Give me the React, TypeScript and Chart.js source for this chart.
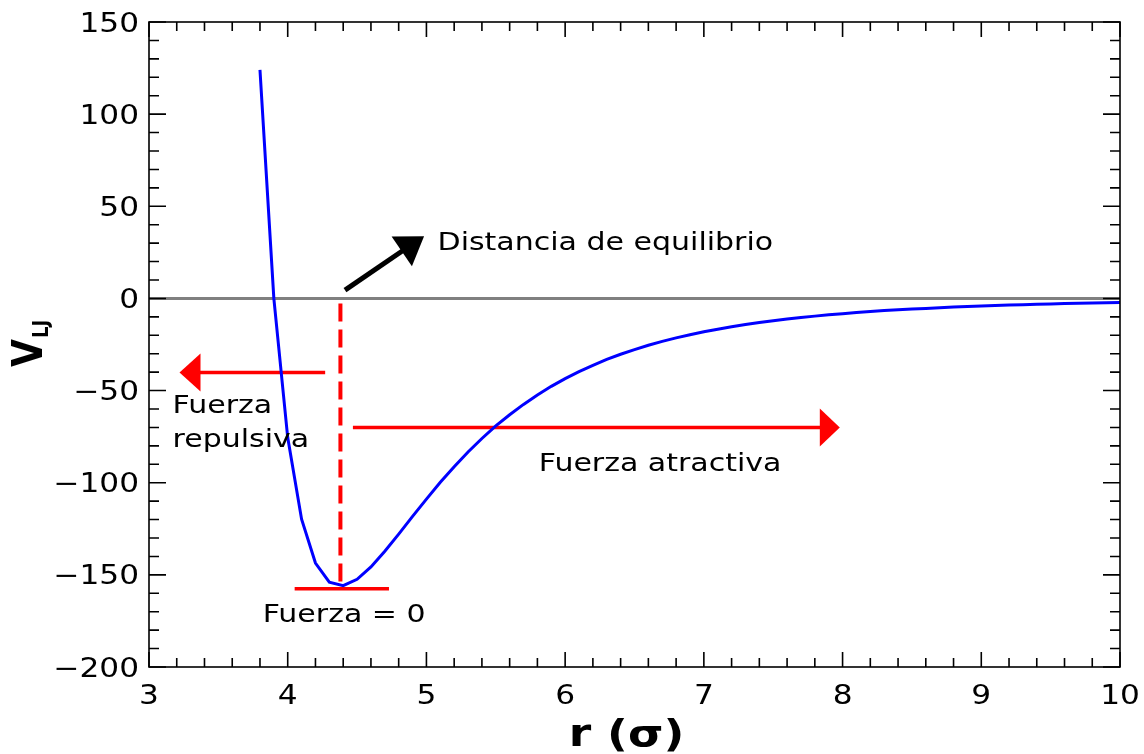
import React, { useEffect, useRef } from "react";
import { Chart, registerables } from "chart.js";

Chart.register(...registerables);

// ---- data ----
const rValues = [
  3.8, 3.9, 4.0, 4.1, 4.2, 4.3, 4.4, 4.5, 4.6, 4.7, 4.8, 4.9, 5.0, 5.1, 5.2, 5.3, 5.4, 5.5, 5.6, 5.7,
  5.8, 5.9, 6.0, 6.1, 6.2, 6.3, 6.4, 6.5, 6.6, 6.7, 6.8, 6.9, 7.0, 7.1, 7.2, 7.3, 7.4, 7.5, 7.6, 7.7,
  7.8, 7.9, 8.0, 8.1, 8.2, 8.3, 8.4, 8.5, 8.6, 8.7, 8.8, 8.9, 9.0, 9.1, 9.2, 9.3, 9.4, 9.5, 9.6, 9.7,
  9.8, 9.9, 10.0,
];
const vLJ = [
  124.0, 0.0, -75.5, -119.8, -143.6, -154.0, -155.9, -152.4, -145.7, -137.2, -127.9, -118.3, -108.9, -99.8, -91.3, -83.3, -76.0, -69.2, -63.1, -57.5,
  -52.4, -47.7, -43.5, -39.7, -36.3, -33.1, -30.3, -27.8, -25.4, -23.3, -21.4, -19.7, -18.1, -16.7, -15.4, -14.2, -13.1, -12.1, -11.2, -10.4,
  -9.6, -8.9, -8.3, -7.7, -7.1, -6.6, -6.2, -5.8, -5.4, -5.0, -4.7, -4.4, -4.1, -3.8, -3.6, -3.4, -3.2, -3.0, -2.8, -2.6,
  -2.5, -2.3, -2.2,
];

const xTickValues = [3, 4, 5, 6, 7, 8, 9, 10];
const xTickLabels = ["3", "4", "5", "6", "7", "8", "9", "10"];
const yTickValues = [-200, -150, -100, -50, 0, 50, 100, 150];
const yTickLabels = ["\u2212200", "\u2212150", "\u2212100", "\u221250", "0", "50", "100", "150"];

const zeroLineR = [3, 10];
const rEquilibrium = 4.38;
const eqLineV = [-2.8, -155.9];
const baseLineR = [4.05, 4.73];
const baseLineV = -157.5;

// annotation arrows (data coordinates: tail -> tip)
const repulsiveArrow = [4.27, -40.2, 3.22, -40.2];
const attractiveArrow = [4.47, -70.0, 7.98, -70.0];
const equilibriumArrow = [4.413, 4.5, 4.983, 33.8];

const annotationTexts = [
  { text: "Distancia de equilibrio", r: 5.08, v: 26.2 },
  { text: "Fuerza", r: 3.17, v: -62.3 },
  { text: "repulsiva", r: 3.17, v: -80.7 },
  { text: "Fuerza atractiva", r: 5.81, v: -93.8 },
  { text: "Fuerza = 0", r: 3.82, v: -175.6 },
];

const xTitle = "r (\u03c3)";
const yTitleMain = "V";
const yTitleSub = "LJ";

// ---- styling ----
const FONT = '"DejaVu Sans", "Liberation Sans", sans-serif';
const SX = 1.2; // reference text is horizontally stretched

function drawText(
  ctx: CanvasRenderingContext2D,
  s: string,
  x: number,
  y: number,
  font: string,
  align: CanvasTextAlign = "left",
  rotate = false
) {
  ctx.save();
  ctx.translate(x, y);
  ctx.scale(SX, 1);
  if (rotate) ctx.rotate(-Math.PI / 2);
  ctx.font = font;
  ctx.textAlign = align;
  ctx.textBaseline = "alphabetic";
  ctx.fillStyle = "#000";
  ctx.fillText(s, 0, 0);
  ctx.restore();
}

function drawArrow(
  ctx: CanvasRenderingContext2D,
  x1: number,
  y1: number,
  x2: number,
  y2: number,
  color: string,
  lw: number,
  headLen: number,
  headW: number
) {
  const dx = x2 - x1;
  const dy = y2 - y1;
  const len = Math.hypot(dx, dy);
  const ux = dx / len;
  const uy = dy / len;
  const bx = x2 - ux * headLen;
  const by = y2 - uy * headLen;
  ctx.save();
  ctx.strokeStyle = color;
  ctx.fillStyle = color;
  ctx.lineWidth = lw;
  ctx.lineCap = "butt";
  ctx.beginPath();
  ctx.moveTo(x1, y1);
  ctx.lineTo(bx + ux * 1, by + uy * 1);
  ctx.stroke();
  ctx.beginPath();
  ctx.moveTo(x2, y2);
  ctx.lineTo(bx - uy * headW / 2, by + ux * headW / 2);
  ctx.lineTo(bx + uy * headW / 2, by - ux * headW / 2);
  ctx.closePath();
  ctx.fill();
  ctx.restore();
}

const framePlugin = {
  id: "ljFrame",
  beforeDatasetsDraw(chart: any) {
    const ctx: CanvasRenderingContext2D = chart.ctx;
    const xs = chart.scales.x;
    const ys = chart.scales.y;
    const P = (a: number[]) => [
      xs.getPixelForValue(a[0]),
      ys.getPixelForValue(a[1]),
      xs.getPixelForValue(a[2]),
      ys.getPixelForValue(a[3]),
    ];
    let p = P(repulsiveArrow);
    drawArrow(ctx, p[0], p[1], p[2], p[3], "#ff0000", 3.5, 21, 38);
    p = P(attractiveArrow);
    drawArrow(ctx, p[0], p[1], p[2], p[3], "#ff0000", 3.5, 20, 38);
    p = P(equilibriumArrow);
    drawArrow(ctx, p[0], p[1], p[2], p[3], "#000000", 5, 27, 36);
  },
  afterDraw(chart: any) {
    const ctx: CanvasRenderingContext2D = chart.ctx;
    const xs = chart.scales.x;
    const ys = chart.scales.y;
    const a = chart.chartArea;
    ctx.save();
    ctx.strokeStyle = "#000";
    ctx.lineWidth = 1.6;
    ctx.strokeRect(a.left, a.top, a.right - a.left, a.bottom - a.top);

    // ticks, inward on all four sides
    const vMaj = 15, vMin = 9, hMaj = 17, hMin = 10;
    ctx.beginPath();
    for (let i = 0; i < xTickValues.length; i++) {
      const v = xTickValues[i];
      const px = xs.getPixelForValue(v);
      ctx.moveTo(px, a.bottom); ctx.lineTo(px, a.bottom - vMaj);
      ctx.moveTo(px, a.top); ctx.lineTo(px, a.top + vMaj);
      if (i < xTickValues.length - 1) {
        const step = (xTickValues[i + 1] - v) / 5;
        for (let k = 1; k < 5; k++) {
          const mx = xs.getPixelForValue(v + k * step);
          ctx.moveTo(mx, a.bottom); ctx.lineTo(mx, a.bottom - vMin);
          ctx.moveTo(mx, a.top); ctx.lineTo(mx, a.top + vMin);
        }
      }
    }
    for (let i = 0; i < yTickValues.length; i++) {
      const v = yTickValues[i];
      const py = ys.getPixelForValue(v);
      ctx.moveTo(a.left, py); ctx.lineTo(a.left + hMaj, py);
      ctx.moveTo(a.right, py); ctx.lineTo(a.right - hMaj, py);
      if (i < yTickValues.length - 1) {
        const step = (yTickValues[i + 1] - v) / 5;
        for (let k = 1; k < 5; k++) {
          const my = ys.getPixelForValue(v + k * step);
          ctx.moveTo(a.left, my); ctx.lineTo(a.left + hMin, my);
          ctx.moveTo(a.right, my); ctx.lineTo(a.right - hMin, my);
        }
      }
    }
    ctx.stroke();
    ctx.restore();

    // tick labels
    const tickFont = `26px ${FONT}`;
    xTickValues.forEach((v, i) => {
      drawText(ctx, xTickLabels[i], xs.getPixelForValue(v), a.bottom + 37, tickFont, "center");
    });
    yTickValues.forEach((v, i) => {
      drawText(ctx, yTickLabels[i], a.left - 10, ys.getPixelForValue(v) + 9.5, tickFont, "right");
    });

    // axis titles
    drawText(ctx, xTitle, (a.left + a.right) / 2 - 8, a.bottom + 79, `bold 38px ${FONT}`, "center");
    drawText(ctx, yTitleMain, 42, 367, `bold 36px ${FONT}`, "left", true);
    drawText(ctx, yTitleSub, 48, 338, `bold 18px ${FONT}`, "left", true);

    // annotation texts
    const annFont = `25px ${FONT}`;
    annotationTexts.forEach((t) => {
      drawText(ctx, t.text, xs.getPixelForValue(t.r), ys.getPixelForValue(t.v), annFont, "left");
    });
  },
};

export default function App() {
  const ref = useRef<HTMLCanvasElement | null>(null);
  useEffect(() => {
    if (!ref.current) return;
    const chart = new Chart(ref.current, {
      type: "line",
      data: {
        datasets: [
          {
            label: "V_LJ",
            data: rValues.map((r, i) => ({ x: r, y: vLJ[i] })),
            borderColor: "#0000ff",
            borderWidth: 3,
            pointRadius: 0,
            tension: 0,
            order: 0,
          },
          {
            label: "zero",
            data: zeroLineR.map((r) => ({ x: r, y: 0 })),
            borderColor: "#808080",
            borderWidth: 3,
            pointRadius: 0,
            order: 3,
          },
          {
            label: "equilibrium",
            data: eqLineV.map((v) => ({ x: rEquilibrium, y: v })),
            borderColor: "#ff0000",
            borderWidth: 4,
            borderDash: [18, 8],
            pointRadius: 0,
            order: 1,
          },
          {
            label: "base",
            data: baseLineR.map((r) => ({ x: r, y: baseLineV })),
            borderColor: "#ff0000",
            borderWidth: 3.5,
            pointRadius: 0,
            order: 2,
          },
        ],
      },
      options: {
        animation: false,
        responsive: false,
        devicePixelRatio: 1,
        events: [],
        layout: { padding: { left: 149, right: 24, top: 22, bottom: 87 } },
        plugins: { legend: { display: false }, tooltip: { enabled: false } },
        scales: {
          x: { type: "linear", min: 3, max: 10, display: false },
          y: { type: "linear", min: -200, max: 150, display: false },
        },
      },
      plugins: [framePlugin],
    });
    return () => chart.destroy();
  }, []);
  return (
    <div style={{ position: "absolute", left: 0, top: 0, width: 1144, height: 754, background: "#fff" }}>
      <canvas ref={ref} width={1144} height={754} style={{ width: 1144, height: 754, display: "block" }} />
    </div>
  );
}
